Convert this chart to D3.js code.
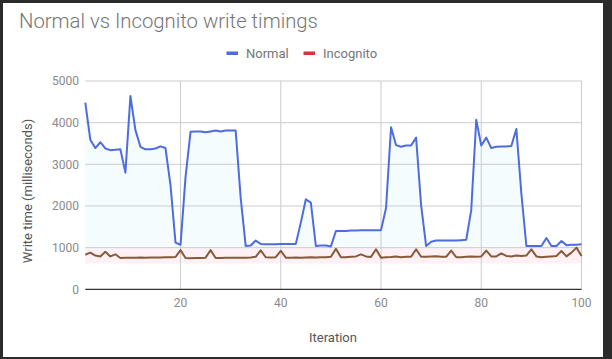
<!DOCTYPE html>
<html><head><meta charset="utf-8">
<script src="https://cdn.jsdelivr.net/npm/d3@7"></script>
<style>html,body{margin:0;padding:0;background:#2b2b2b;}svg{display:block;font-family:Roboto,"Noto Sans",sans-serif;}</style>
</head><body>
<script>
const iterations = d3.range(1, 101);
const normal = [4480,3590,3390,3530,3380,3340,3350,3360,2800,4640,
3820,3420,3360,3360,3380,3430,3390,2500,1120,1070,
2700,3780,3790,3790,3770,3790,3810,3790,3810,3810,
3810,2200,1040,1050,1170,1090,1080,1080,1080,1090,
1090,1090,1090,1600,2160,2080,1040,1050,1050,1030,
1400,1400,1400,1410,1410,1420,1420,1420,1420,1420,
1950,3890,3460,3420,3450,3450,3640,2020,1040,1140,
1170,1170,1170,1170,1170,1180,1190,1900,4070,3450,
3640,3390,3420,3430,3430,3440,3850,2300,1040,1040,
1040,1040,1230,1040,1040,1160,1060,1070,1070,1080];
const incognito = [830,880,810,790,900,790,840,750,755,760,
760,765,760,765,765,765,770,770,775,940,
750,745,750,750,760,940,750,750,755,760,
755,760,760,765,780,935,770,765,770,925,
760,760,765,760,765,770,765,770,770,780,
970,770,770,780,790,840,790,775,960,760,
770,775,790,770,780,780,960,780,780,790,
795,780,780,930,770,770,780,790,780,790,
930,790,790,860,800,790,810,800,810,960,
790,770,780,790,800,920,790,880,1000,800];
const yTicks = [0,1000,2000,3000,4000,5000];
const xTicks = [20,40,60,80,100];
const incognitoBand = [620, 1000];
const seriesNames = ["Normal", "Incognito"];

const W = 612, H = 359;
const svg = d3.select("body").append("svg").attr("width", W).attr("height", H);
svg.append("rect").attr("x",0).attr("y",0).attr("width",W).attr("height",H).attr("fill","#2b2b2b");
svg.append("rect").attr("x",3).attr("y",3).attr("width",600).attr("height",354).attr("fill","#fff");

const x = d3.scaleLinear().domain([1,100]).range([85.3,581.5]);
const y = d3.scaleLinear().domain([0,5000]).range([289.3,81]);

// faint fill under normal
svg.append("path").datum(iterations)
  .attr("d", d3.area().x(i=>x(i)).y0(y(1000)).y1((i)=>y(normal[i-1])))
  .attr("fill","#f4fcfd");
// pink band
svg.append("path").datum(iterations)
  .attr("d", d3.area().x(i=>x(i)).y0(y(incognitoBand[0])).y1(y(incognitoBand[1])))
  .attr("fill","#fdf1f5");

// gridlines
svg.append("g").selectAll("line").data(yTicks.filter(d=>d>0)).join("line")
  .attr("x1", x(1)).attr("x2", x(100)).attr("y1", d=>y(d)).attr("y2", d=>y(d))
  .attr("stroke","#cccccc").attr("stroke-width",1);
svg.append("g").selectAll("line").data(xTicks).join("line")
  .attr("x1", d=>x(d)).attr("x2", d=>x(d)).attr("y1", y(0)).attr("y2", y(5000))
  .attr("stroke","#cccccc").attr("stroke-width",1);

// baseline
svg.append("line").attr("x1",x(1)).attr("x2",x(100)).attr("y1",y(0)).attr("y2",y(0))
  .attr("stroke","#333").attr("stroke-width",1.3);

const line = arr => d3.line().x(i=>x(i)).y(i=>y(arr[i-1]));
svg.append("path").datum(iterations).attr("d", line(normal)).attr("fill","none")
  .attr("stroke","#4e6ce0").attr("stroke-width",2).attr("stroke-linejoin","round");
svg.append("path").datum(iterations).attr("d", line(incognito)).attr("fill","none")
  .attr("stroke","#875a3a").attr("stroke-width",2).attr("stroke-linejoin","round");

// axes labels
svg.append("g").selectAll("text").data(yTicks).join("text")
  .attr("x",79).attr("y",d=>y(d)).attr("dy","0.35em").attr("text-anchor","end")
  .attr("font-size",12).attr("fill","#8a8a8a").text(d=>d);
svg.append("g").selectAll("text").data(xTicks).join("text")
  .attr("x",d=>x(d)).attr("y",303).attr("dy","0.35em").attr("text-anchor","middle")
  .attr("font-size",12).attr("fill","#8a8a8a").text(d=>d);

svg.append("text").attr("x",19).attr("y",28).attr("font-size",20.3).attr("font-weight",300)
  .attr("fill","#757575").text("Normal vs Incognito write timings");

svg.append("text").attr("transform","translate(27.5,191) rotate(-90)").attr("text-anchor","middle")
  .attr("dy","0.35em").attr("font-size",13).attr("fill","#555").text("Write time (milliseconds)");
svg.append("text").attr("x",333).attr("y",337).attr("dy","0.35em").attr("text-anchor","middle")
  .attr("font-size",13).attr("fill","#555").text("Iteration");

// legend
const legendColors = ["#4e6ce0","#e0303b"];
const legendX = [226.5, 303.5];
const lg = svg.append("g");
seriesNames.forEach((n,k)=>{
  lg.append("rect").attr("x",legendX[k]).attr("y",51.5).attr("width",11.5).attr("height",3.5).attr("fill",legendColors[k]);
  lg.append("text").attr("x",legendX[k]+19.5).attr("y",53.5).attr("dy","0.35em").attr("font-size",13)
    .attr("fill","#757575").text(n);
});
</script>
</body></html>
